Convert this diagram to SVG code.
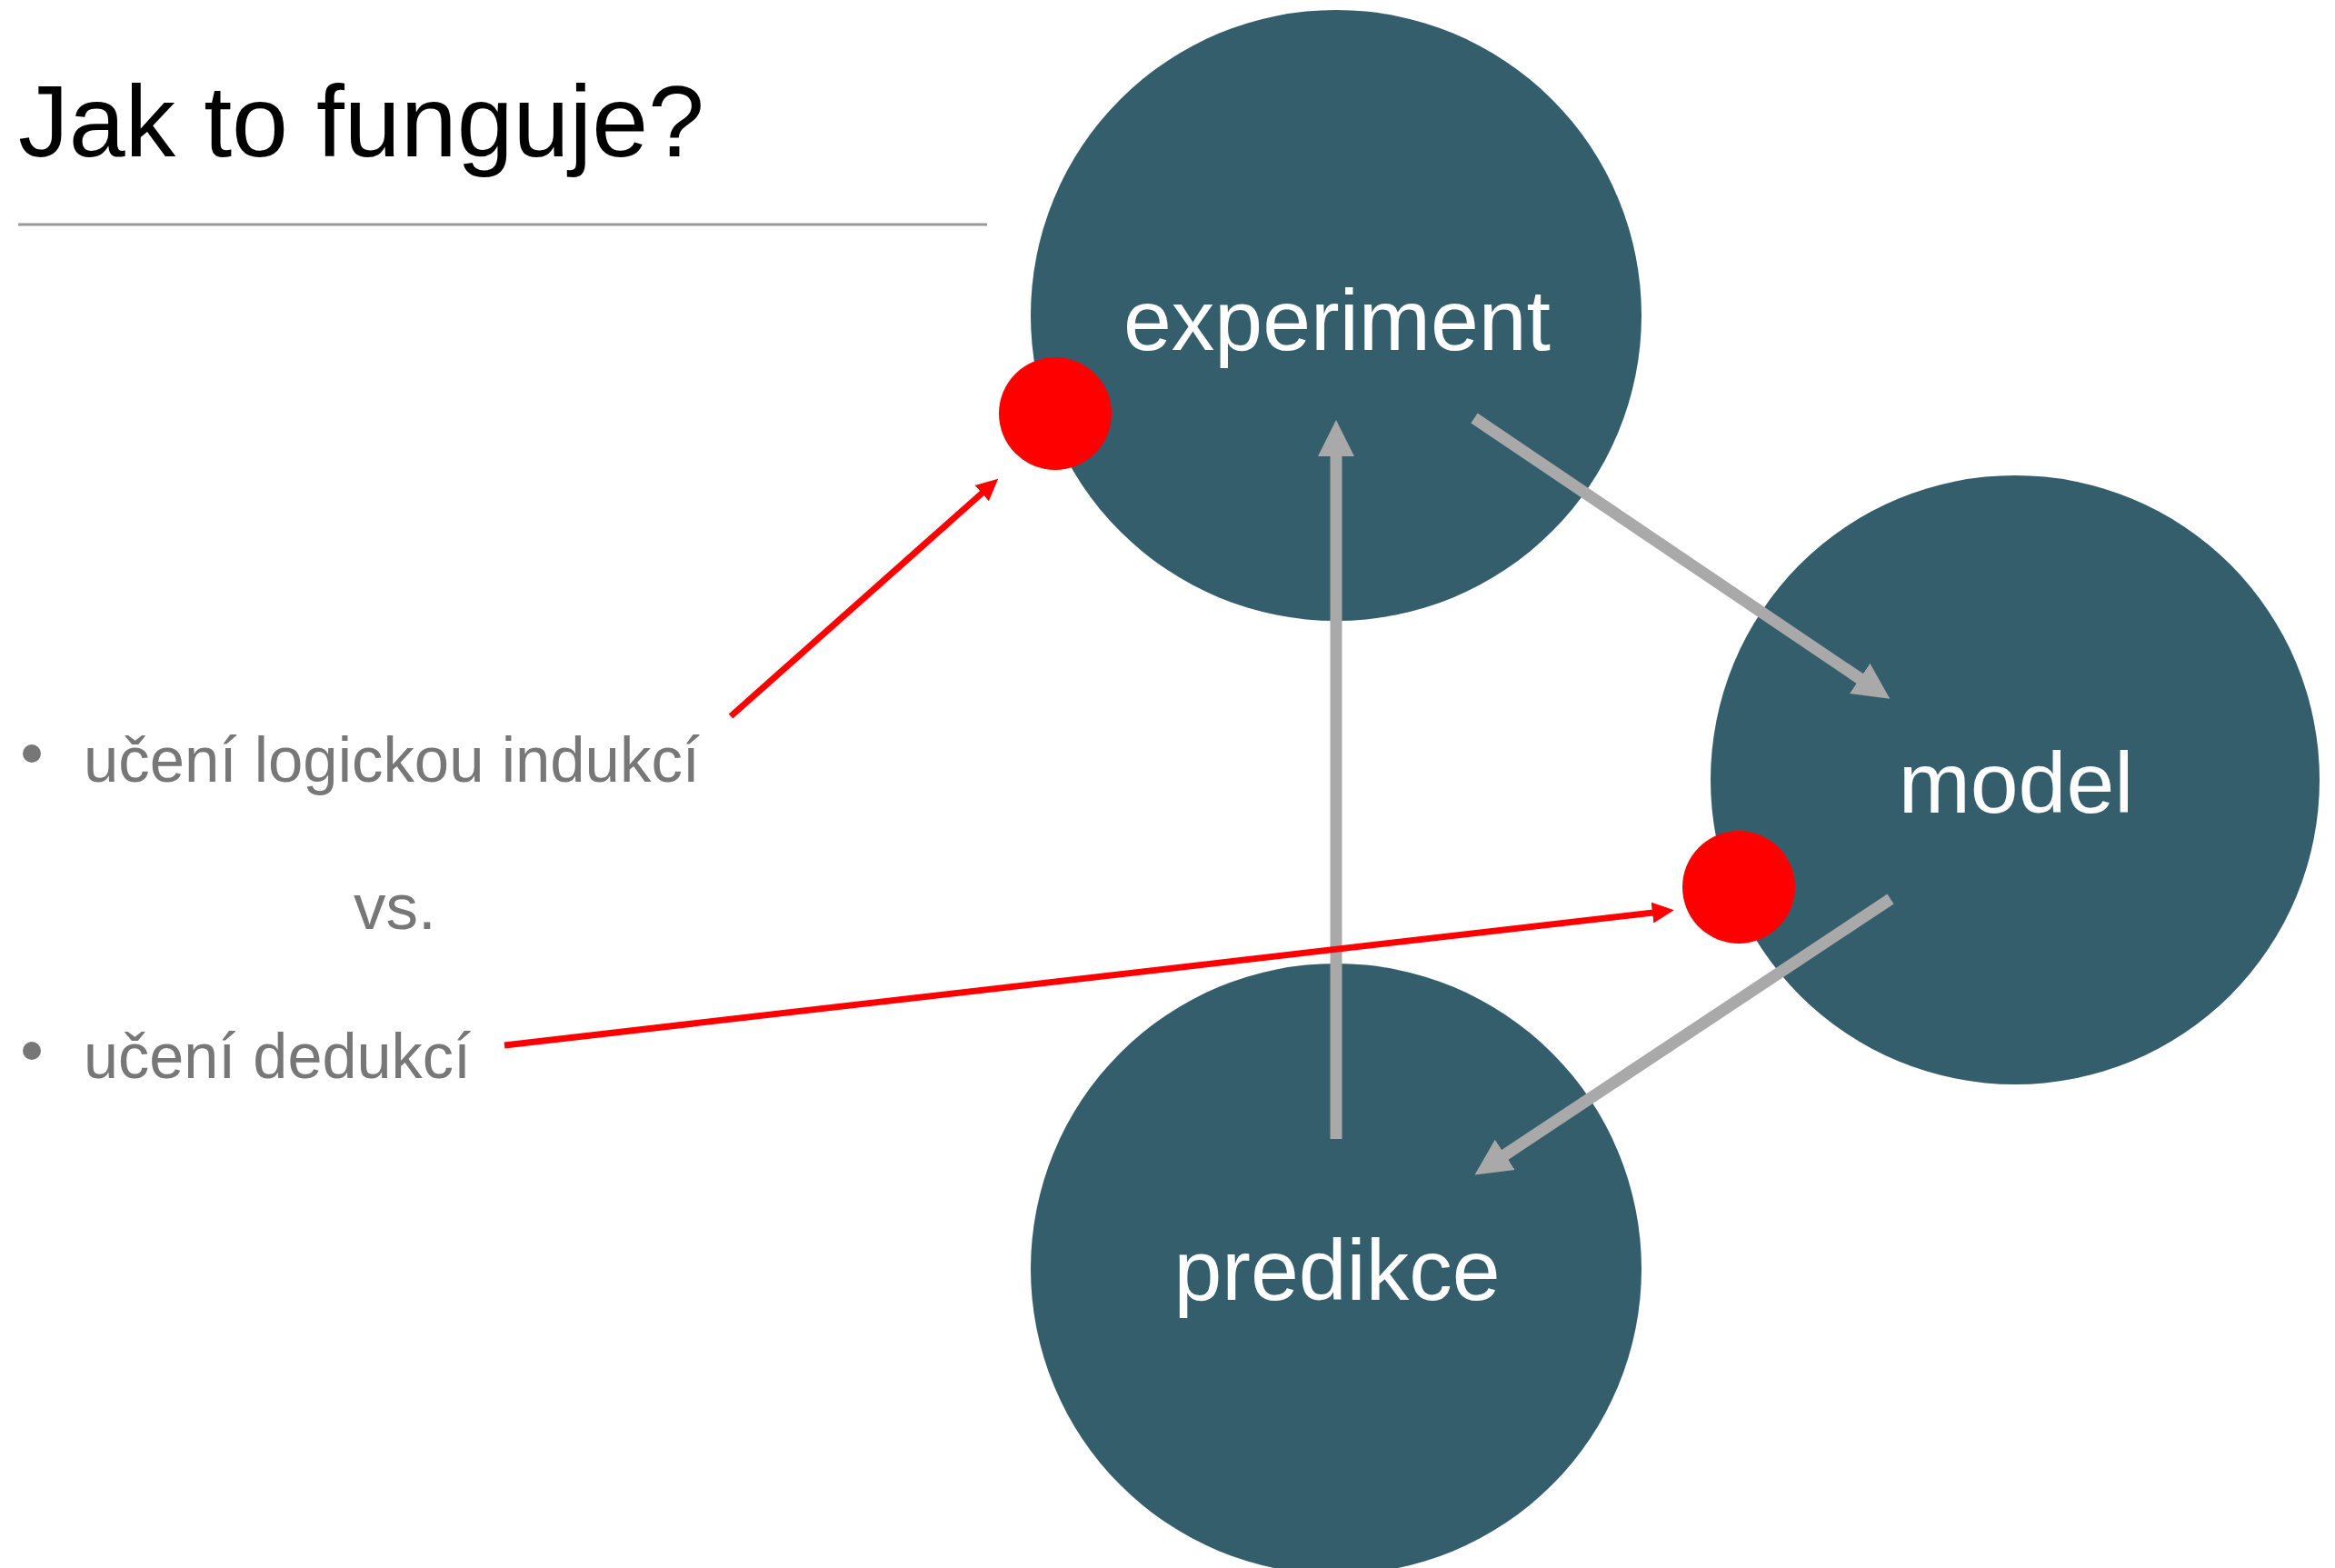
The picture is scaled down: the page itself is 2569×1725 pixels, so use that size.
<svg xmlns="http://www.w3.org/2000/svg" width="2569" height="1725" viewBox="0 0 2569 1725">
<style>
.node{fill:#345E6B}
.lbl{font-family:"Liberation Sans",Arial,sans-serif;font-size:95px;fill:#FFFFFF;text-anchor:middle}
.bul{font-family:"Liberation Sans",Arial,sans-serif;font-size:71px;fill:#777777}
.dot{fill:#FF0000}
.garr{stroke:#A9A9A9;stroke-width:13;fill:none;stroke-linecap:butt}
.rarr{stroke:#FF0000;stroke-width:7;fill:none;stroke-linecap:butt}
</style>
<defs>
<marker id="gh" markerUnits="userSpaceOnUse" markerWidth="42" markerHeight="42" viewBox="0 -21 42 42" refX="1" refY="0" orient="auto">
<path d="M0,-20 L40,0 L0,20 Z" fill="#A9A9A9"/>
</marker>
<marker id="rh" markerUnits="userSpaceOnUse" markerWidth="26" markerHeight="26" viewBox="0 -13 26 26" refX="1" refY="0" orient="auto">
<path d="M0,-11.5 L24,0 L0,11.5 Z" fill="#FF0000"/>
</marker>
</defs>
<rect width="2569" height="1725" fill="#FFFFFF"/>
<g id="title">
<text x="20" y="172" font-family="Liberation Sans, Arial, sans-serif" font-size="111" textLength="755" lengthAdjust="spacingAndGlyphs" fill="#000000">Jak to funguje?</text>
<line x1="20" y1="247" x2="1086" y2="247" stroke="#999999" stroke-width="3"/>
</g>
<g id="bullets">
<circle cx="35" cy="829" r="10" fill="#777777"/>
<text class="bul" x="92" y="860" textLength="678" lengthAdjust="spacingAndGlyphs">učení logickou indukcí</text>
<text class="bul" x="389" y="1022">vs.</text>
<circle cx="35" cy="1156" r="10" fill="#777777"/>
<text class="bul" x="92" y="1186" textLength="426" lengthAdjust="spacingAndGlyphs">učení dedukcí</text>
</g>
<g id="node-experiment">
<circle class="node" cx="1470" cy="347" r="336"/>
<text class="lbl" x="1471" y="385">experiment</text>
</g>
<g id="node-model">
<circle class="node" cx="2217" cy="858" r="335"/>
<text class="lbl" x="2218" y="894">model</text>
</g>
<g id="node-predikce">
<circle class="node" cx="1470" cy="1396" r="336"/>
<text class="lbl" x="1471" y="1430">predikce</text>
</g>
<g id="dot-induction"><circle class="dot" cx="1161" cy="455" r="62"/></g>
<g id="dot-deduction"><circle class="dot" cx="1913" cy="976" r="62"/></g>
<g id="connectors">
<line class="garr" x1="1622" y1="460" x2="2047" y2="747" marker-end="url(#gh)"/>
<line class="garr" x1="2080" y1="989" x2="1655" y2="1271" marker-end="url(#gh)"/>
<line class="garr" x1="1470" y1="1253" x2="1470" y2="501" marker-end="url(#gh)"/>
<line class="rarr" x1="804" y1="788" x2="1081" y2="542" marker-end="url(#rh)"/>
<line class="rarr" x1="555" y1="1150" x2="1819" y2="1004" marker-end="url(#rh)"/>
</g>
</svg>
